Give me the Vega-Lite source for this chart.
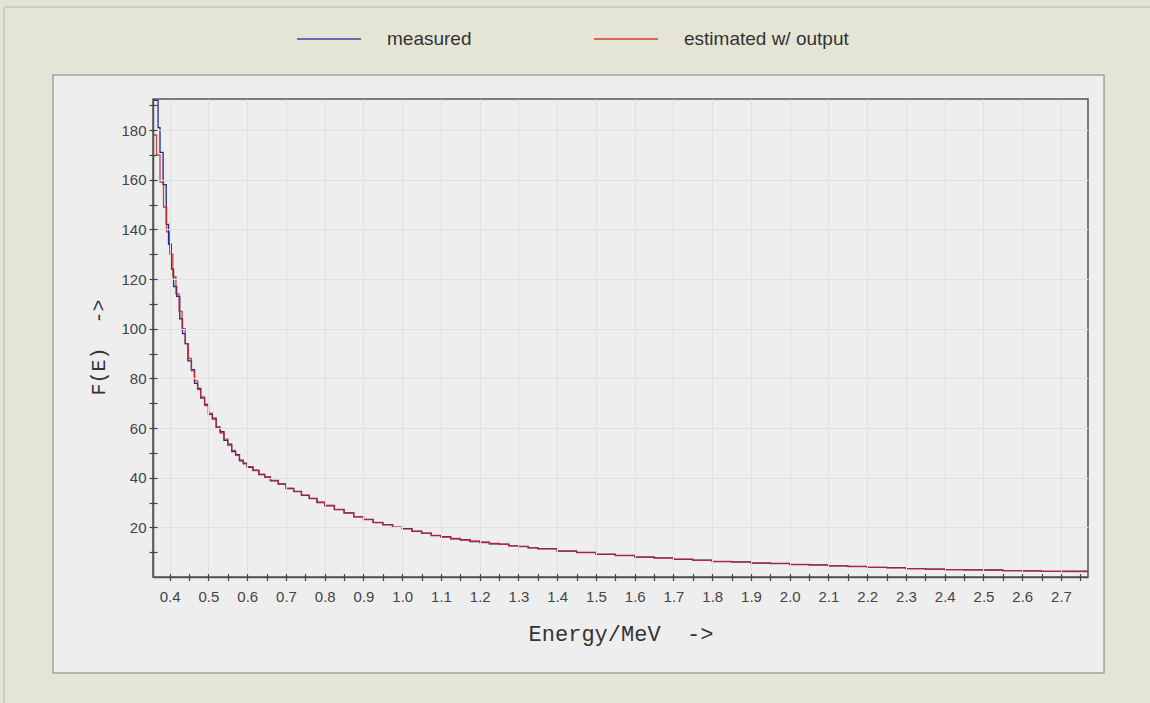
{
  "$schema": "https://vega.github.io/schema/vega-lite/v6.json",
  "width": 935,
  "height": 478,
  "autosize": {"type": "none"},
  "padding": {"left": 153, "top": 99, "right": 62, "bottom": 126},
  "background": "#e5e5d6",
  "config": {
    "view": {"fill": "#eeeeee", "stroke": null},
    "axis": {
      "domainColor": "#555555",
      "domainWidth": 1.5,
      "tickColor": "#444444",
      "tickWidth": 1.2,
      "tickSize": 4,
      "gridColor": "#e0e0e0",
      "gridWidth": 1,
      "labelFont": "Liberation Sans",
      "labelFontSize": 15,
      "labelColor": "#444444",
      "labelOverlap": false,
      "labelFlush": false,
      "labelBound": false,
      "titleFont": "Liberation Mono",
      "titleFontSize": 20,
      "titleFontWeight": "normal",
      "titleColor": "#333333"
    }
  },
  "datasets": {
    "spectrum": [
      {"E": 0.357, "F": 192, "series": "measured"},
      {"E": 0.370, "F": 181, "series": "measured"},
      {"E": 0.375, "F": 171, "series": "measured"},
      {"E": 0.383, "F": 158, "series": "measured"},
      {"E": 0.391, "F": 142, "series": "measured"},
      {"E": 0.397, "F": 134, "series": "measured"},
      {"E": 0.404, "F": 124, "series": "measured"},
      {"E": 0.410, "F": 117, "series": "measured"},
      {"E": 0.418, "F": 113, "series": "measured"},
      {"E": 0.426, "F": 104, "series": "measured"},
      {"E": 0.433, "F": 98, "series": "measured"},
      {"E": 0.440, "F": 94, "series": "measured"},
      {"E": 0.447, "F": 87, "series": "measured"},
      {"E": 0.456, "F": 83.5, "series": "measured"},
      {"E": 0.464, "F": 78, "series": "measured"},
      {"E": 0.472, "F": 76, "series": "measured"},
      {"E": 0.480, "F": 72, "series": "measured"},
      {"E": 0.490, "F": 69.5, "series": "measured"},
      {"E": 0.500, "F": 65.5, "series": "measured"},
      {"E": 0.510, "F": 64, "series": "measured"},
      {"E": 0.520, "F": 60, "series": "measured"},
      {"E": 0.530, "F": 58.5, "series": "measured"},
      {"E": 0.540, "F": 55, "series": "measured"},
      {"E": 0.550, "F": 53.5, "series": "measured"},
      {"E": 0.560, "F": 50.5, "series": "measured"},
      {"E": 0.570, "F": 49.3, "series": "measured"},
      {"E": 0.580, "F": 46.8, "series": "measured"},
      {"E": 0.590, "F": 45.8, "series": "measured"},
      {"E": 0.600, "F": 44.2, "series": "measured"},
      {"E": 0.615, "F": 43.0, "series": "measured"},
      {"E": 0.630, "F": 41.2, "series": "measured"},
      {"E": 0.645, "F": 40.3, "series": "measured"},
      {"E": 0.660, "F": 38.7, "series": "measured"},
      {"E": 0.680, "F": 37.5, "series": "measured"},
      {"E": 0.700, "F": 35.6, "series": "measured"},
      {"E": 0.720, "F": 34.5, "series": "measured"},
      {"E": 0.740, "F": 32.9, "series": "measured"},
      {"E": 0.760, "F": 31.7, "series": "measured"},
      {"E": 0.780, "F": 30.0, "series": "measured"},
      {"E": 0.800, "F": 28.8, "series": "measured"},
      {"E": 0.825, "F": 27.1, "series": "measured"},
      {"E": 0.850, "F": 25.8, "series": "measured"},
      {"E": 0.875, "F": 24.2, "series": "measured"},
      {"E": 0.900, "F": 23.2, "series": "measured"},
      {"E": 0.925, "F": 21.9, "series": "measured"},
      {"E": 0.950, "F": 21.1, "series": "measured"},
      {"E": 0.975, "F": 20.0, "series": "measured"},
      {"E": 1.000, "F": 19.5, "series": "measured"},
      {"E": 1.025, "F": 18.4, "series": "measured"},
      {"E": 1.050, "F": 17.7, "series": "measured"},
      {"E": 1.075, "F": 16.7, "series": "measured"},
      {"E": 1.100, "F": 16.2, "series": "measured"},
      {"E": 1.125, "F": 15.4, "series": "measured"},
      {"E": 1.150, "F": 15.0, "series": "measured"},
      {"E": 1.175, "F": 14.3, "series": "measured"},
      {"E": 1.200, "F": 14.0, "series": "measured"},
      {"E": 1.225, "F": 13.4, "series": "measured"},
      {"E": 1.250, "F": 13.2, "series": "measured"},
      {"E": 1.275, "F": 12.5, "series": "measured"},
      {"E": 1.300, "F": 12.3, "series": "measured"},
      {"E": 1.325, "F": 11.7, "series": "measured"},
      {"E": 1.350, "F": 11.4, "series": "measured"},
      {"E": 1.400, "F": 10.4, "series": "measured"},
      {"E": 1.450, "F": 9.9, "series": "measured"},
      {"E": 1.500, "F": 9.1, "series": "measured"},
      {"E": 1.550, "F": 8.7, "series": "measured"},
      {"E": 1.600, "F": 8.0, "series": "measured"},
      {"E": 1.650, "F": 7.7, "series": "measured"},
      {"E": 1.700, "F": 7.1, "series": "measured"},
      {"E": 1.750, "F": 6.8, "series": "measured"},
      {"E": 1.800, "F": 6.2, "series": "measured"},
      {"E": 1.850, "F": 6.1, "series": "measured"},
      {"E": 1.900, "F": 5.6, "series": "measured"},
      {"E": 1.950, "F": 5.5, "series": "measured"},
      {"E": 2.000, "F": 5.0, "series": "measured"},
      {"E": 2.050, "F": 4.9, "series": "measured"},
      {"E": 2.100, "F": 4.5, "series": "measured"},
      {"E": 2.150, "F": 4.3, "series": "measured"},
      {"E": 2.200, "F": 3.9, "series": "measured"},
      {"E": 2.250, "F": 3.8, "series": "measured"},
      {"E": 2.300, "F": 3.4, "series": "measured"},
      {"E": 2.350, "F": 3.2, "series": "measured"},
      {"E": 2.400, "F": 3.0, "series": "measured"},
      {"E": 2.450, "F": 2.9, "series": "measured"},
      {"E": 2.500, "F": 2.9, "series": "measured"},
      {"E": 2.550, "F": 2.6, "series": "measured"},
      {"E": 2.600, "F": 2.45, "series": "measured"},
      {"E": 2.650, "F": 2.3, "series": "measured"},
      {"E": 2.700, "F": 2.35, "series": "measured"},
      {"E": 2.7697, "F": 2.0, "series": "measured"},
      {"E": 0.357, "F": 178, "series": "estimated w/ output"},
      {"E": 0.366, "F": 170, "series": "estimated w/ output"},
      {"E": 0.375, "F": 159, "series": "estimated w/ output"},
      {"E": 0.384, "F": 149, "series": "estimated w/ output"},
      {"E": 0.392, "F": 139, "series": "estimated w/ output"},
      {"E": 0.400, "F": 130, "series": "estimated w/ output"},
      {"E": 0.408, "F": 121, "series": "estimated w/ output"},
      {"E": 0.416, "F": 114, "series": "estimated w/ output"},
      {"E": 0.424, "F": 107, "series": "estimated w/ output"},
      {"E": 0.432, "F": 100, "series": "estimated w/ output"},
      {"E": 0.440, "F": 94, "series": "estimated w/ output"},
      {"E": 0.448, "F": 88, "series": "estimated w/ output"},
      {"E": 0.456, "F": 83, "series": "estimated w/ output"},
      {"E": 0.464, "F": 79, "series": "estimated w/ output"},
      {"E": 0.472, "F": 75.5, "series": "estimated w/ output"},
      {"E": 0.480, "F": 72.5, "series": "estimated w/ output"},
      {"E": 0.490, "F": 69, "series": "estimated w/ output"},
      {"E": 0.500, "F": 66, "series": "estimated w/ output"},
      {"E": 0.510, "F": 63.5, "series": "estimated w/ output"},
      {"E": 0.520, "F": 60.5, "series": "estimated w/ output"},
      {"E": 0.530, "F": 58, "series": "estimated w/ output"},
      {"E": 0.540, "F": 55.5, "series": "estimated w/ output"},
      {"E": 0.550, "F": 53, "series": "estimated w/ output"},
      {"E": 0.560, "F": 51, "series": "estimated w/ output"},
      {"E": 0.570, "F": 49, "series": "estimated w/ output"},
      {"E": 0.580, "F": 47.2, "series": "estimated w/ output"},
      {"E": 0.590, "F": 45.6, "series": "estimated w/ output"},
      {"E": 0.600, "F": 44.4, "series": "estimated w/ output"},
      {"E": 0.615, "F": 42.8, "series": "estimated w/ output"},
      {"E": 0.630, "F": 41.4, "series": "estimated w/ output"},
      {"E": 0.645, "F": 40.1, "series": "estimated w/ output"},
      {"E": 0.660, "F": 38.9, "series": "estimated w/ output"},
      {"E": 0.680, "F": 37.3, "series": "estimated w/ output"},
      {"E": 0.700, "F": 35.8, "series": "estimated w/ output"},
      {"E": 0.720, "F": 34.4, "series": "estimated w/ output"},
      {"E": 0.740, "F": 33.0, "series": "estimated w/ output"},
      {"E": 0.760, "F": 31.6, "series": "estimated w/ output"},
      {"E": 0.780, "F": 30.1, "series": "estimated w/ output"},
      {"E": 0.800, "F": 28.7, "series": "estimated w/ output"},
      {"E": 0.825, "F": 27.2, "series": "estimated w/ output"},
      {"E": 0.850, "F": 25.7, "series": "estimated w/ output"},
      {"E": 0.875, "F": 24.3, "series": "estimated w/ output"},
      {"E": 0.900, "F": 23.1, "series": "estimated w/ output"},
      {"E": 0.925, "F": 22.0, "series": "estimated w/ output"},
      {"E": 0.950, "F": 21.0, "series": "estimated w/ output"},
      {"E": 0.975, "F": 20.1, "series": "estimated w/ output"},
      {"E": 1.000, "F": 19.4, "series": "estimated w/ output"},
      {"E": 1.025, "F": 18.5, "series": "estimated w/ output"},
      {"E": 1.050, "F": 17.6, "series": "estimated w/ output"},
      {"E": 1.075, "F": 16.8, "series": "estimated w/ output"},
      {"E": 1.100, "F": 16.1, "series": "estimated w/ output"},
      {"E": 1.125, "F": 15.5, "series": "estimated w/ output"},
      {"E": 1.150, "F": 14.9, "series": "estimated w/ output"},
      {"E": 1.175, "F": 14.4, "series": "estimated w/ output"},
      {"E": 1.200, "F": 13.9, "series": "estimated w/ output"},
      {"E": 1.225, "F": 13.5, "series": "estimated w/ output"},
      {"E": 1.250, "F": 13.1, "series": "estimated w/ output"},
      {"E": 1.275, "F": 12.6, "series": "estimated w/ output"},
      {"E": 1.300, "F": 12.2, "series": "estimated w/ output"},
      {"E": 1.325, "F": 11.8, "series": "estimated w/ output"},
      {"E": 1.350, "F": 11.3, "series": "estimated w/ output"},
      {"E": 1.400, "F": 10.5, "series": "estimated w/ output"},
      {"E": 1.450, "F": 9.8, "series": "estimated w/ output"},
      {"E": 1.500, "F": 9.2, "series": "estimated w/ output"},
      {"E": 1.550, "F": 8.6, "series": "estimated w/ output"},
      {"E": 1.600, "F": 8.1, "series": "estimated w/ output"},
      {"E": 1.650, "F": 7.6, "series": "estimated w/ output"},
      {"E": 1.700, "F": 7.2, "series": "estimated w/ output"},
      {"E": 1.750, "F": 6.7, "series": "estimated w/ output"},
      {"E": 1.800, "F": 6.3, "series": "estimated w/ output"},
      {"E": 1.850, "F": 6.0, "series": "estimated w/ output"},
      {"E": 1.900, "F": 5.7, "series": "estimated w/ output"},
      {"E": 1.950, "F": 5.4, "series": "estimated w/ output"},
      {"E": 2.000, "F": 5.1, "series": "estimated w/ output"},
      {"E": 2.050, "F": 4.8, "series": "estimated w/ output"},
      {"E": 2.100, "F": 4.5, "series": "estimated w/ output"},
      {"E": 2.150, "F": 4.2, "series": "estimated w/ output"},
      {"E": 2.200, "F": 3.9, "series": "estimated w/ output"},
      {"E": 2.250, "F": 3.7, "series": "estimated w/ output"},
      {"E": 2.300, "F": 3.4, "series": "estimated w/ output"},
      {"E": 2.350, "F": 3.2, "series": "estimated w/ output"},
      {"E": 2.400, "F": 3.0, "series": "estimated w/ output"},
      {"E": 2.450, "F": 2.9, "series": "estimated w/ output"},
      {"E": 2.500, "F": 2.7, "series": "estimated w/ output"},
      {"E": 2.550, "F": 2.6, "series": "estimated w/ output"},
      {"E": 2.600, "F": 2.45, "series": "estimated w/ output"},
      {"E": 2.650, "F": 2.3, "series": "estimated w/ output"},
      {"E": 2.700, "F": 2.2, "series": "estimated w/ output"},
      {"E": 2.7697, "F": 2.0, "series": "estimated w/ output"}
    ]
  },
  "resolve": {"axis": {"x": "independent", "y": "independent"}},
  "layer": [
    {
      "layer": [
        {
          "data": {"values": [{}]},
          "mark": {"type": "rect", "filled": false, "stroke": "#b8b8ae", "strokeWidth": 1},
          "encoding": {
            "x": {"datum": -0.0276, "type": "quantitative", "title": "Energy/MeV\u00a0\u00a0->"},
            "x2": {"datum": 2.9554},
            "y": {"datum": 229.55, "type": "quantitative", "title": "F(E)\u00a0\u00a0->"},
            "y2": {"datum": -53.6}
          }
        },
        {
          "data": {"values": [{}]},
          "mark": {"type": "rect", "fill": "#eeeeee", "strokeWidth": 0},
          "encoding": {
            "x": {"datum": 0.0988, "type": "quantitative", "title": "Energy/MeV\u00a0\u00a0->"},
            "x2": {"datum": 2.8111},
            "y": {"datum": 202.2, "type": "quantitative", "title": "F(E)\u00a0\u00a0->"},
            "y2": {"datum": 192.5}
          }
        },
        {
          "data": {"values": [{}]},
          "mark": {"type": "rect", "fill": "#eeeeee", "strokeWidth": 0},
          "encoding": {
            "x": {"datum": 0.0988, "type": "quantitative", "title": "Energy/MeV\u00a0\u00a0->"},
            "x2": {"datum": 2.8111},
            "y": {"datum": 0, "type": "quantitative", "title": "F(E)\u00a0\u00a0->"},
            "y2": {"datum": -38.7}
          }
        },
        {
          "data": {"values": [{}]},
          "mark": {"type": "rect", "fill": "#eeeeee", "strokeWidth": 0},
          "encoding": {
            "x": {"datum": 0.0988, "type": "quantitative", "title": "Energy/MeV\u00a0\u00a0->"},
            "x2": {"datum": 0.3569},
            "y": {"datum": 0, "type": "quantitative", "title": "F(E)\u00a0\u00a0->"},
            "y2": {"datum": 192.5}
          }
        },
        {
          "data": {"values": [{}]},
          "mark": {"type": "rect", "fill": "#eeeeee", "strokeWidth": 0},
          "encoding": {
            "x": {"datum": 2.7697, "type": "quantitative", "title": "Energy/MeV\u00a0\u00a0->"},
            "x2": {"datum": 2.8111},
            "y": {"datum": 0, "type": "quantitative", "title": "F(E)\u00a0\u00a0->"},
            "y2": {"datum": 192.5}
          }
        },
        {
          "data": {"values": [{}]},
          "mark": {"type": "rect", "filled": false, "stroke": "#a3a3a0", "strokeWidth": 1.5},
          "encoding": {
            "x": {"datum": 0.0988, "type": "quantitative", "title": "Energy/MeV\u00a0\u00a0->"},
            "x2": {"datum": 2.8111},
            "y": {"datum": 202.2, "type": "quantitative", "title": "F(E)\u00a0\u00a0->"},
            "y2": {"datum": -38.7}
          }
        },
        {
          "data": {"name": "spectrum"},
          "transform": [{"filter": "datum.series == 'measured'"}],
          "mark": {"type": "line", "interpolate": "step-after", "strokeWidth": 1.3, "clip": true},
          "encoding": {
            "x": {
              "field": "E", "type": "quantitative", "title": "Energy/MeV\u00a0\u00a0->",
              "scale": {"domain": [0.3569, 2.7697], "nice": false, "zero": false},
              "axis": {
                "zindex": 1,
                "grid": true,
                "ticks": false,
                "values": [0.4, 0.5, 0.6, 0.7, 0.8, 0.9, 1.0, 1.1, 1.2, 1.3, 1.4, 1.5, 1.6, 1.7, 1.8, 1.9, 2.0, 2.1, 2.2, 2.3, 2.4, 2.5, 2.6, 2.7],
                "format": ".1f",
                "labelPadding": 12,
                "titleFontSize": 22,
                "titlePadding": 19
              }
            },
            "y": {
              "field": "F", "type": "quantitative", "title": "F(E)\u00a0\u00a0->",
              "scale": {"domain": [0, 192.5], "nice": false, "zero": false},
              "axis": {
                "zindex": 1,
                "grid": true,
                "ticks": false,
                "values": [20, 40, 60, 80, 100, 120, 140, 160, 180],
                "format": "d",
                "labelPadding": 7,
                "titlePadding": 12,
                "titleY": 248
              }
            },
            "color": {
              "field": "series", "type": "nominal",
              "scale": {"domain": ["measured", "estimated w/ output"], "range": ["#1c2a94", "#cc2222"]},
              "legend": {
                "title": null,
                "orient": "none",
                "legendX": 143,
                "legendY": -93,
                "direction": "horizontal",
                "symbolType": "stroke",
                "symbolSize": 4096,
                "symbolStrokeWidth": 1.5,
                "labelFont": "Liberation Sans",
                "labelFontSize": 19,
                "labelLimit": 400,
                "labelColor": "#333333",
                "labelOffset": 25,
                "columnPadding": 119,
                "padding": 0
              }
            }
          }
        },
        {
          "data": {"name": "spectrum"},
          "transform": [{"filter": "datum.series == 'estimated w/ output'"}],
          "mark": {"type": "line", "interpolate": "step-after", "strokeWidth": 1.3, "clip": true, "opacity": 0.85},
          "encoding": {
            "x": {"field": "E", "type": "quantitative", "title": "Energy/MeV\u00a0\u00a0->"},
            "y": {"field": "F", "type": "quantitative", "title": "F(E)\u00a0\u00a0->"},
            "color": {"field": "series", "type": "nominal"}
          }
        }
      ]
    },
    {
      "data": {"values": [{}]},
      "mark": {"type": "rect", "filled": false, "stroke": "#555555", "strokeWidth": 1.5},
      "encoding": {
        "x": {
          "datum": 0.3569, "type": "quantitative",
          "scale": {"domain": [0.3569, 2.7697], "nice": false, "zero": false},
          "axis": {
            "orient": "bottom",
            "zindex": 2,
            "title": null,
            "labels": false,
            "domain": false,
            "grid": false,
            "tickSize": 7,
            "offset": -3.5,
            "values": [0.4, 0.45, 0.5, 0.55, 0.6, 0.65, 0.7, 0.75, 0.8, 0.85, 0.9, 0.95, 1.0, 1.05, 1.1, 1.15, 1.2, 1.25, 1.3, 1.35, 1.4, 1.45, 1.5, 1.55, 1.6, 1.65, 1.7, 1.75, 1.8, 1.85, 1.9, 1.95, 2.0, 2.05, 2.1, 2.15, 2.2, 2.25, 2.3, 2.35, 2.4, 2.45, 2.5, 2.55, 2.6, 2.65, 2.7, 2.75]
          }
        },
        "x2": {"datum": 2.7697},
        "y": {
          "datum": 0, "type": "quantitative",
          "scale": {"domain": [0, 192.5], "nice": false, "zero": false},
          "axis": {
            "orient": "left",
            "zindex": 2,
            "title": null,
            "labels": false,
            "domain": false,
            "grid": false,
            "tickSize": 8,
            "offset": -4,
            "values": [10, 20, 30, 40, 50, 60, 70, 80, 90, 100, 110, 120, 130, 140, 150, 160, 170, 180, 190]
          }
        },
        "y2": {"datum": 192.5}
      }
    }
  ]
}
